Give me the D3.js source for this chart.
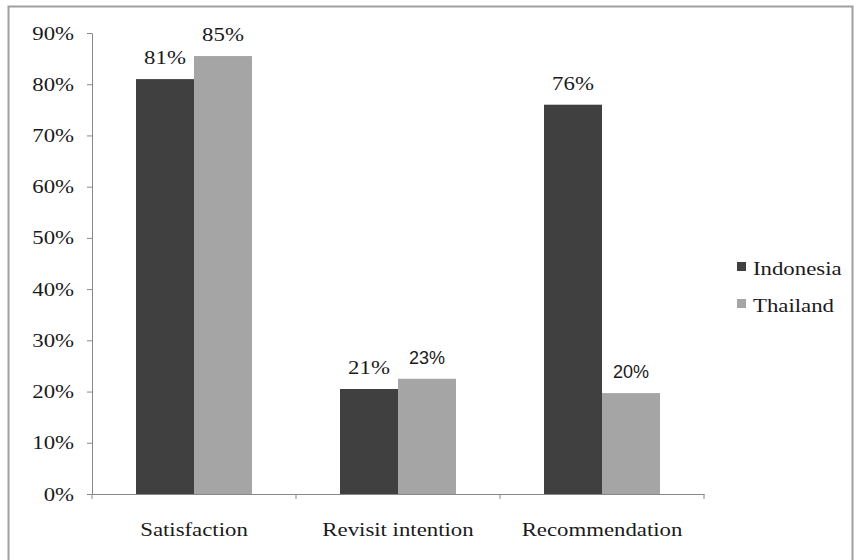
<!DOCTYPE html>
<html><head><meta charset="utf-8">
<script src="https://cdn.jsdelivr.net/npm/d3@7"></script>
<style>body{margin:0;background:#fff;}svg{display:block;}</style>
</head><body>
<script>
const categories = ["Satisfaction", "Revisit intention", "Recommendation"];
const seriesNames = ["Indonesia", "Thailand"];
const indonesia = [0.81, 0.205, 0.76];
const thailand = [0.855, 0.225, 0.197];
const labelsIndonesia = ["81%", "21%", "76%"];
const labelsThailand = ["85%", "23%", "20%"];
const yTicks = [0, 0.1, 0.2, 0.3, 0.4, 0.5, 0.6, 0.7, 0.8, 0.9];
const colors = ["#404040", "#a5a5a5"];

(function () {
const W = 854, H = 560;
const serif = "'Liberation Serif', 'Times New Roman', Times, 'DejaVu Serif', serif";
const sans = "'Liberation Sans', Arial, sans-serif";
const SX = 1.2;
const svg = d3.select("body").append("svg").attr("width", W).attr("height", H);
svg.append("rect").attr("x", 8.5).attr("y", 6.5).attr("width", 844).attr("height", 570)
  .attr("fill", "none").attr("stroke", "#a0a0a0").attr("stroke-width", 2);

const mLeft = 92, mRight = 704, mTop = 33, mBottom = 494;
const x = d3.scaleBand().domain(categories).range([mLeft, mRight]);
const y = d3.scaleLinear().domain([0, 0.9]).range([mBottom, mTop]);
const groupW = x.bandwidth() * 116 / 204;
const x1 = d3.scaleBand().domain(seriesNames).range([0, groupW]);

function stext(g, tx, ty, str, anchor, size, fam, sx) {
  return g.append("text").attr("transform", `translate(${tx},${ty}) scale(${sx},1)`)
    .attr("text-anchor", anchor).style("font-family", fam).style("font-size", size + "px")
    .attr("fill", "#1a1a1a").text(str);
}

const yAxis = svg.append("g").attr("transform", `translate(${mLeft},0)`)
  .call(d3.axisLeft(y).tickValues(yTicks).tickFormat("").tickSize(5).tickSizeOuter(0));
yAxis.select(".domain").attr("stroke", "#888");
yAxis.selectAll(".tick line").attr("stroke", "#888");
yAxis.selectAll(".tick").each(function (d) {
  stext(d3.select(this), -18, 6, d3.format(".0%")(d), "end", 19, serif, SX);
});

const xAxis = svg.append("g").attr("transform", `translate(0,${mBottom})`)
  .call(d3.axisBottom(x).tickSize(0).tickSizeOuter(0).tickFormat(""));
xAxis.select(".domain").attr("stroke", "#888");
xAxis.selectAll(".tick").each(function (d) {
  stext(d3.select(this), 0, 42, d, "middle", 19, serif, SX);
});
const bounds = [mLeft, ...categories.map(c => x(c) + x.bandwidth())];
svg.append("g").selectAll("line").data(bounds).join("line")
  .attr("x1", d => d).attr("x2", d => d).attr("y1", mBottom).attr("y2", mBottom + 5).attr("stroke", "#888");

const data = [indonesia, thailand];
const labels = [labelsIndonesia, labelsThailand];
const sansLabel = [[false, false, false], [false, true, true]];
seriesNames.forEach((s, si) => {
  const g = svg.append("g");
  const bx = (c) => x(c) + (x.bandwidth() - groupW) / 2 + x1(s);
  g.selectAll("rect").data(categories).join("rect")
    .attr("x", bx)
    .attr("y", (c, i) => y(data[si][i]))
    .attr("width", x1.bandwidth())
    .attr("height", (c, i) => mBottom - y(data[si][i]))
    .attr("fill", colors[si]);
  categories.forEach((c, i) => {
    const isSans = sansLabel[si][i];
    stext(g, bx(c) + x1.bandwidth() / 2, y(data[si][i]) - 15, labels[si][i], "middle",
      isSans ? 18 : 19, isSans ? sans : serif, isSans ? 1 : SX);
  });
});

const lg = svg.append("g");
seriesNames.forEach((s, i) => {
  const cy = 266.5 + i * 37;
  lg.append("rect").attr("x", 737).attr("y", cy - 4.5).attr("width", 9).attr("height", 9).attr("fill", colors[i]);
  stext(lg, 753, cy + 8, s, "start", 19, serif, SX);
});
})();
</script>
</body></html>
